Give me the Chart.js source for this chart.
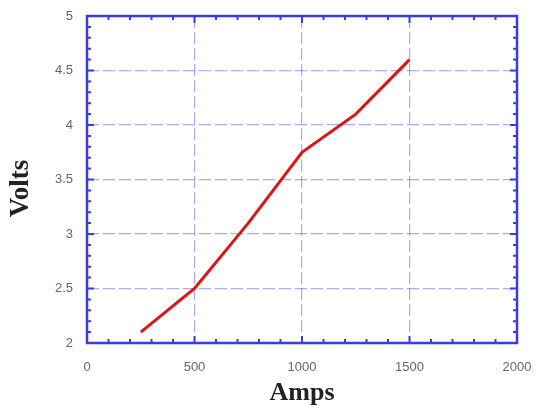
<!DOCTYPE html>
<html><head><meta charset="utf-8">
<script src="https://cdn.jsdelivr.net/npm/chart.js@4/dist/chart.umd.min.js"></script>
<style>html,body{margin:0;padding:0;background:#fff}#w{width:537px;height:409px}</style>
</head><body><div id="w"><canvas id="c" width="537" height="409"></canvas></div>
<script>
const amps = [250, 500, 750, 1000, 1250, 1500];
const volts = [2.1, 2.5, 3.1, 3.75, 4.1, 4.6];
const xTickLabels = [0, 500, 1000, 1500, 2000];
const yTickLabels = [2, 2.5, 3, 3.5, 4, 4.5, 5];
const xTitle = 'Amps';
const yTitle = 'Volts';

const isMajor = (v, list) => list.some(t => Math.abs(t - v) < 1e-6);
const gridColor = list => ctx => (ctx.tick && isMajor(ctx.tick.value, list)) ? 'rgba(90,90,240,0.5)' : 'rgba(0,0,0,0)';

const innerTicks = {
  id: 'innerTicks',
  afterDatasetsDraw(chart) {
    const {ctx, chartArea: a} = chart;
    const xs = chart.scales.x, ys = chart.scales.y;
    ctx.save();
    ctx.strokeStyle = '#3a3ae8';
    ctx.lineWidth = 2;
    xs.ticks.forEach(t => {
      const px = xs.getPixelForValue(t.value);
      const L = isMajor(t.value, xTickLabels) ? 7 : 4;
      ctx.beginPath();
      ctx.moveTo(px, a.bottom); ctx.lineTo(px, a.bottom - L);
      ctx.moveTo(px, a.top); ctx.lineTo(px, a.top + L);
      ctx.stroke();
    });
    ys.ticks.forEach(t => {
      const py = ys.getPixelForValue(t.value);
      const L = isMajor(t.value, yTickLabels) ? 7 : 4;
      ctx.beginPath();
      ctx.moveTo(a.left, py); ctx.lineTo(a.left + L, py);
      ctx.moveTo(a.right, py); ctx.lineTo(a.right - L, py);
      ctx.stroke();
    });
    ctx.lineWidth = 2.5;
    ctx.strokeRect(a.left, a.top, a.right - a.left, a.bottom - a.top);
    // y axis title (shifted slightly below centre as in the reference)
    ctx.fillStyle = '#222';
    ctx.font = 'bold 27px "Liberation Serif"';
    ctx.textAlign = 'center';
    ctx.textBaseline = 'middle';
    ctx.translate(21, (a.top + a.bottom) / 2 + 9);
    ctx.rotate(-Math.PI / 2);
    ctx.fillText(yTitle, 0, 0);
    ctx.restore();
  }
};

new Chart(document.getElementById('c'), {
  type: 'scatter',
  data: {
    datasets: [{
      data: amps.map((a, i) => ({x: a, y: volts[i]})),
      showLine: true,
      borderColor: '#e01414',
      borderWidth: 3,
      pointRadius: 0,
      tension: 0
    }]
  },
  options: {
    responsive: false,
    animation: false,
    layout: {padding: {left: 0, top: 16, right: 20, bottom: 0}},
    plugins: {legend: {display: false}, tooltip: {enabled: false}},
    scales: {
      x: {
        type: 'linear', min: 0, max: 2000,
        border: {display: false, dash: [12, 4]},
        grid: {color: gridColor(xTickLabels), lineWidth: 1.2, drawTicks: false},
        ticks: {
          stepSize: 100, autoSkip: false, maxRotation: 0, padding: 17,
          color: '#666', font: {family: 'Liberation Sans', size: 13},
          callback: v => isMajor(v, xTickLabels) ? String(v) : ''
        },
        title: {display: true, text: xTitle, color: '#222',
          font: {family: 'Liberation Serif', size: 26, weight: 'bold'}, padding: {top: 0, bottom: 0}},
        afterFit: s => { s.height = 66; s.paddingRight = 0; s.paddingLeft = 0; }
      },
      y: {
        type: 'linear', min: 2, max: 5,
        border: {display: false, dash: [12, 4]},
        grid: {color: gridColor(yTickLabels), lineWidth: 1.2, drawTicks: false},
        ticks: {
          stepSize: 0.1, autoSkip: false, padding: 14,
          color: '#666', font: {family: 'Liberation Sans', size: 13},
          callback: v => isMajor(v, yTickLabels) ? String(Math.round(v * 10) / 10) : ''
        },
        title: {display: false},
        afterFit: s => { s.width = 87; s.paddingTop = 0; s.paddingBottom = 0; }
      }
    }
  },
  plugins: [innerTicks]
});
</script>
</body></html>
